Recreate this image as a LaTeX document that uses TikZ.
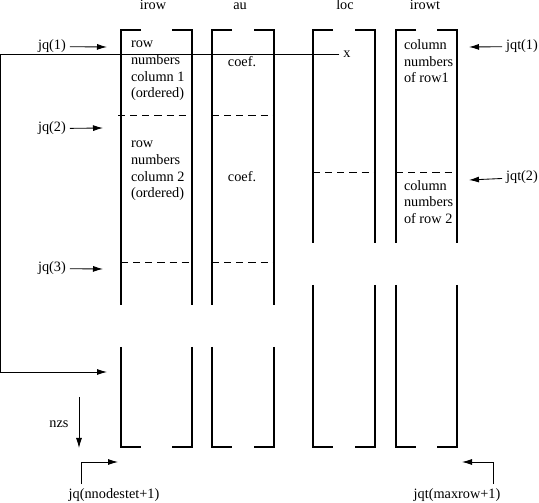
\documentclass[tikz,border=0pt]{standalone}
\usepackage{fontspec}
\setmainfont{Liberation Serif}
\usetikzlibrary{arrows.meta}

\begin{document}
\begin{tikzpicture}[x=0.7pt, y=-0.7pt, line width=0.6pt,
    every node/.style={font=\fontsize{10}{11.6}\selectfont, inner sep=2.5pt},
    col/.style={line width=1.3pt},
    sep/.style={dash pattern=on 5pt off 3.5pt},
    arr/.style={-{Latex[length=7pt,width=4.2pt]}},
    txt/.style={align=left, anchor=west}]
    \useasboundingbox (0,0) rectangle (539,503);

    % Columns: left / right / end of upper part / start of lower part
    \foreach \l/\r/\e/\s in {121/192/305/347, 212/274/305/347, 313/375/243/285, 396/457/243/285} {
        \draw[col] (\l+20,30) -- (\l,30) -- (\l,\e);
        \draw[col] (\r-20,30) -- (\r,30) -- (\r,\e);
        \draw[col] (\l,\s) -- (\l,447) -- (\l+20,447);
        \draw[col] (\r,\s) -- (\r,447) -- (\r-20,447);
    }

    % Dashed separators
    \draw[sep] (118,115) -- (192,115);
    \draw[sep] (212,115) -- (274,115);
    \draw[sep] (121,262) -- (192,262);
    \draw[sep] (212,262) -- (274,262);
    \draw[sep] (313,172) -- (375,172);
    \draw[sep] (396,172) -- (457,172);

    % Column headers
    \node[anchor=base] (irow) at (153,10) {irow};
    \node[anchor=base] (au) at (240,10) {au};
    \node[anchor=base] (loc) at (345,10) {loc};
    \node[anchor=base] (irowt) at (425,10) {irowt};

    % Column contents
    \node[txt] (rows1) at (127,71) {row\\numbers\\column 1\\(ordered)};
    \node[txt] (rows2) at (127,171) {row\\numbers\\column 2\\(ordered)};
    \node[anchor=base] (coef1) at (242,67) {coef.};
    \node[anchor=base] (coef2) at (242,182) {coef.};
    \node[anchor=base] (xlab) at (347,58) {x};
    \node[txt] (cols1) at (400,61.5) {column\\numbers\\of row1};
    \node[txt] (cols2) at (400,202) {column\\numbers\\of row 2};

    % Pointers on the left
    \node[anchor=base] (jq1) at (52,50) {jq(1)};
    \node[anchor=base] (jq2) at (52,132) {jq(2)};
    \node[anchor=base] (jq3) at (52,272) {jq(3)};
    \node[anchor=base] (nzs) at (59,428) {nzs};
    \node[anchor=base] (jqn) at (114,498) {jq(nnodestet+1)};
    \coordinate (jq1tip) at (107,47);
    \coordinate (jq2tip) at (103,128);
    \coordinate (jq3tip) at (103,269);
    \coordinate (nzstop) at (79,397);
    \coordinate (nzsbot) at (79,448);
    \coordinate (jqnbend) at (81,462);
    \coordinate (jqntip) at (118,462);
    \draw[arr] (jq1) -- (jq1tip);
    \draw[arr] (jq2) -- (jq2tip);
    \draw[arr] (jq3) -- (jq3tip);
    \draw[arr] (nzstop) -- (nzsbot);
    \draw[arr] (jqn.north -| jqnbend) -- (jqnbend) -- (jqntip);

    % Pointers on the right
    \node[anchor=base] (jqt1) at (522,50) {jqt(1)};
    \node[anchor=base] (jqt2) at (522,181) {jqt(2)};
    \node[anchor=base] (jqtm) at (457,498) {jqt(maxrow+1)};
    \coordinate (jqt1tip) at (469,47);
    \coordinate (jqt2tip) at (469,180);
    \coordinate (jqtmbend) at (493,462);
    \coordinate (jqtmtip) at (462,462);
    \draw[arr] (jqt1) -- (jqt1tip);
    \draw[arr] (jqt2) -- (jqt2tip);
    \draw[arr] (jqtm.north -| jqtmbend) -- (jqtmbend) -- (jqtmtip);

    % Link from loc entry back into irow
    \coordinate (lbend) at (0.5,372);
    \coordinate (lowtip) at (107,372);
    \draw[arr] (xlab.west) -- (xlab.west -| lbend) -- (lbend) -- (lowtip);
\end{tikzpicture}
\end{document}
